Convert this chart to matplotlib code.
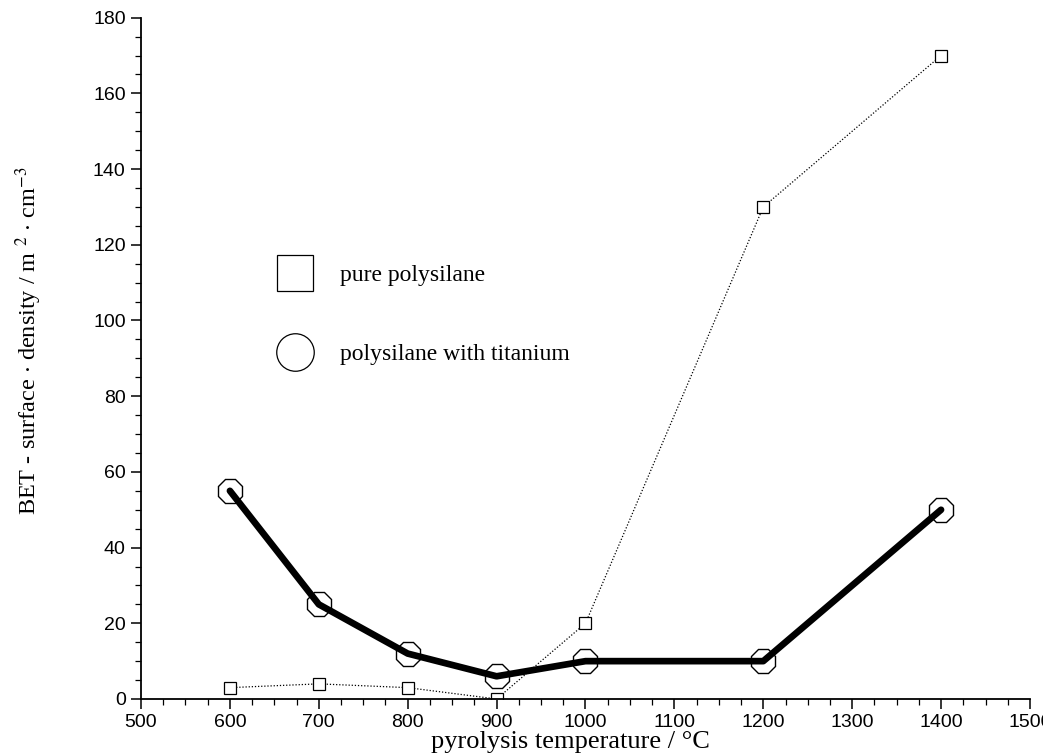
import numpy as np
import matplotlib.pyplot as plt
from matplotlib.lines import Line2D
from matplotlib.ticker import MultipleLocator

# pyrolysis temperatures (°C)
temp = [600, 700, 800, 900, 1000, 1200, 1400]
# BET surface density, m^2 / cm^3
pure = [3, 4, 3, 0, 20, 130, 170]
titanium = [55, 25, 12, 6, 10, 10, 50]

plt.rcParams['mathtext.fontset'] = 'stix'

fig = plt.figure(figsize=(10.43, 7.56), dpi=100)
ax = fig.add_axes([0.1352, 0.0754, 0.8523, 0.9012])

ax.plot(temp, pure, color='k', lw=0.9, ls=(0, (1, 1.5)),
        marker='s', ms=9, mfc='white', mec='k', mew=0.9)
ax.plot(temp, titanium, color='k', lw=4.8, solid_capstyle='round',
        marker='8', ms=18, mfc='none', mec='k', mew=1.0)

ax.set_xlim(500, 1500)
ax.set_ylim(0, 180)
ax.xaxis.set_major_locator(MultipleLocator(100))
ax.xaxis.set_minor_locator(MultipleLocator(25))
ax.yaxis.set_major_locator(MultipleLocator(20))
ax.yaxis.set_minor_locator(MultipleLocator(5))

for s in ['top', 'right']:
    ax.spines[s].set_visible(False)
for s in ['left', 'bottom']:
    ax.spines[s].set_linewidth(1.3)

ax.tick_params(which='major', direction='out', length=7, width=1.1,
               labelsize=14, pad=4)
ax.tick_params(which='minor', direction='out', length=4, width=0.9)
for lab in ax.get_xticklabels() + ax.get_yticklabels():
    lab.set_family('Liberation Sans')

serif = 'Liberation Serif'
ax.set_xlabel('pyrolysis temperature / °C', family=serif, fontsize=19)
ax.xaxis.set_label_coords(0.4826, -0.047)
ax.set_ylabel(r'BET - surface $\cdot$ density / m $^{2}$ $\cdot$ cm$^{-3}$',
              family=serif, fontsize=17.5)
ax.yaxis.set_label_coords(-0.109, 0.526)

handles = [
    Line2D([], [], ls='none', marker='s', ms=26, mfc='none', mec='k', mew=0.9),
    Line2D([], [], ls='none', marker='o', ms=27, mfc='none', mec='k', mew=0.9),
]
ax.legend(handles, ['pure polysilane', 'polysilane with titanium'],
          loc='upper left', bbox_to_anchor=(0.133, 0.655), frameon=False,
          prop={'family': serif, 'size': 17}, labelspacing=2.45,
          handletextpad=0.9, borderpad=0)

fig.savefig('out.png', dpi=100)
